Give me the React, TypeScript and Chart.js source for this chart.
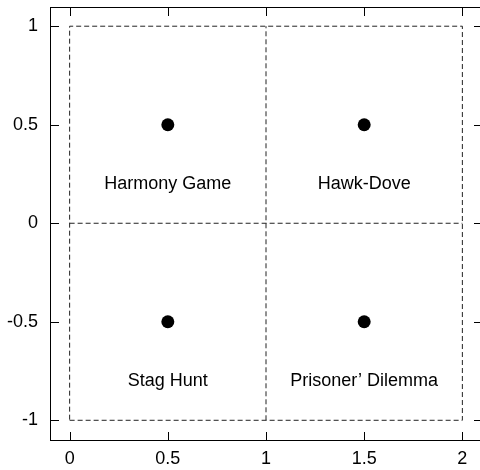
import React, { useEffect, useRef } from "react";
import { Chart, registerables } from "chart.js";

Chart.register(...registerables);

const xTicks = [0, 0.5, 1, 1.5, 2];
const yTicks = [-1, -0.5, 0, 0.5, 1];
const xRange = [-0.1, 2.1];
const yRange = [-1.1, 1.1];

const pointX = [0.5, 1.5, 0.5, 1.5];
const pointY = [0.5, 0.5, -0.5, -0.5];

const labelText = ["Harmony Game", "Hawk-Dove", "Stag Hunt", "Prisoner\u2019 Dilemma"];
const labelX = [0.5, 1.5, 0.5, 1.5];
const labelY = [0.2, 0.2, -0.8, -0.8];

const outerBoxX = [0, 2, 2, 0, 0];
const outerBoxY = [-1, -1, 1, 1, -1];
const midVerticalX = [1, 1];
const midVerticalY = [-1, 1];
const midHorizontalX = [0, 2];
const midHorizontalY = [0, 0];

const FONT = '"Liberation Sans", Arial, Helvetica, sans-serif';

const zip = (xs: number[], ys: number[]) => xs.map((x, i) => ({ x, y: ys[i] }));

const framePlugin = {
  id: "frame",
  afterDraw(chart: any) {
    const { ctx } = chart;
    const xs = chart.scales.x;
    const ys = chart.scales.y;
    const l = Math.round(xs.left);
    const r = Math.round(xs.right);
    const t = Math.round(ys.top);
    const b = Math.round(ys.bottom);
    const tl = 8;
    ctx.save();
    ctx.fillStyle = "#000";
    ctx.font = `18px ${FONT}`;
    ctx.textAlign = "center";
    ctx.textBaseline = "middle";
    labelText.forEach((txt, i) => {
      ctx.fillText(txt, xs.getPixelForValue(labelX[i]), ys.getPixelForValue(labelY[i]));
    });
    // frame
    ctx.fillRect(l, t, r - l + 1, 1);
    ctx.fillRect(l, b, r - l + 1, 1);
    ctx.fillRect(l, t, 1, b - t + 1);
    ctx.fillRect(r, t, 1, b - t + 1);
    xTicks.forEach((v) => {
      const p = Math.round(xs.getPixelForValue(v));
      ctx.fillRect(p, b - tl, 1, tl);
      ctx.fillRect(p, t + 1, 1, tl);
    });
    yTicks.forEach((v) => {
      const p = Math.round(ys.getPixelForValue(v));
      ctx.fillRect(l + 1, p, tl, 1);
      ctx.fillRect(r - tl, p, tl, 1);
    });
    ctx.restore();
  },
};

export default function App() {
  const ref = useRef<HTMLCanvasElement | null>(null);
  useEffect(() => {
    if (!ref.current) return;
    const dashed = {
      type: "line" as const,
      borderColor: "#222",
      borderWidth: 1,
      borderDash: [5, 3],
      pointRadius: 0,
      fill: false,
      tension: 0,
    };
    const chart = new Chart(ref.current, {
      type: "scatter",
      data: {
        datasets: [
          { ...dashed, data: zip(outerBoxX, outerBoxY) },
          { ...dashed, data: zip(midVerticalX, midVerticalY) },
          { ...dashed, data: zip(midHorizontalX, midHorizontalY) },
          {
            type: "scatter",
            data: zip(pointX, pointY),
            pointRadius: 6.5,
            pointBackgroundColor: "#000",
            pointBorderColor: "#000",
            pointBorderWidth: 0,
          } as any,
        ],
      },
      options: {
        animation: false,
        responsive: false,
        devicePixelRatio: 1,
        layout: { padding: { top: 6, right: 8, left: 0, bottom: 0 } },
        plugins: { legend: { display: false }, tooltip: { enabled: false } },
        scales: {
          x: {
            type: "linear",
            min: xRange[0],
            max: xRange[1],
            grid: { display: false, drawTicks: false },
            border: { display: false },
            ticks: {
              color: "#000",
              font: { size: 18, family: FONT },
              padding: 8,
              maxRotation: 0,
              callback: (v: any) => String(v),
            },
            afterBuildTicks: (s: any) => {
              s.ticks = xTicks.map((v) => ({ value: v }));
            },
            afterFit: (s: any) => {
              s.height = 30;
              s.paddingLeft = 0;
              s.paddingRight = 0;
            },
          },
          y: {
            type: "linear",
            min: yRange[0],
            max: yRange[1],
            grid: { display: false, drawTicks: false },
            border: { display: false },
            ticks: {
              color: "#000",
              font: { size: 18, family: FONT },
              padding: 12,
              callback: (v: any) => String(v),
            },
            afterBuildTicks: (s: any) => {
              s.ticks = yTicks.map((v) => ({ value: v }));
            },
            afterFit: (s: any) => {
              s.width = 50;
              s.paddingTop = 0;
              s.paddingBottom = 0;
            },
          },
        },
      },
      plugins: [framePlugin],
    });
    return () => chart.destroy();
  }, []);
  return (
    <div style={{ position: "fixed", left: 0, top: 0, width: 480, height: 470, overflow: "hidden", background: "#fff" }}>
      <canvas ref={ref} width={490} height={470} style={{ width: 490, height: 470, display: "block" }} />
    </div>
  );
}
